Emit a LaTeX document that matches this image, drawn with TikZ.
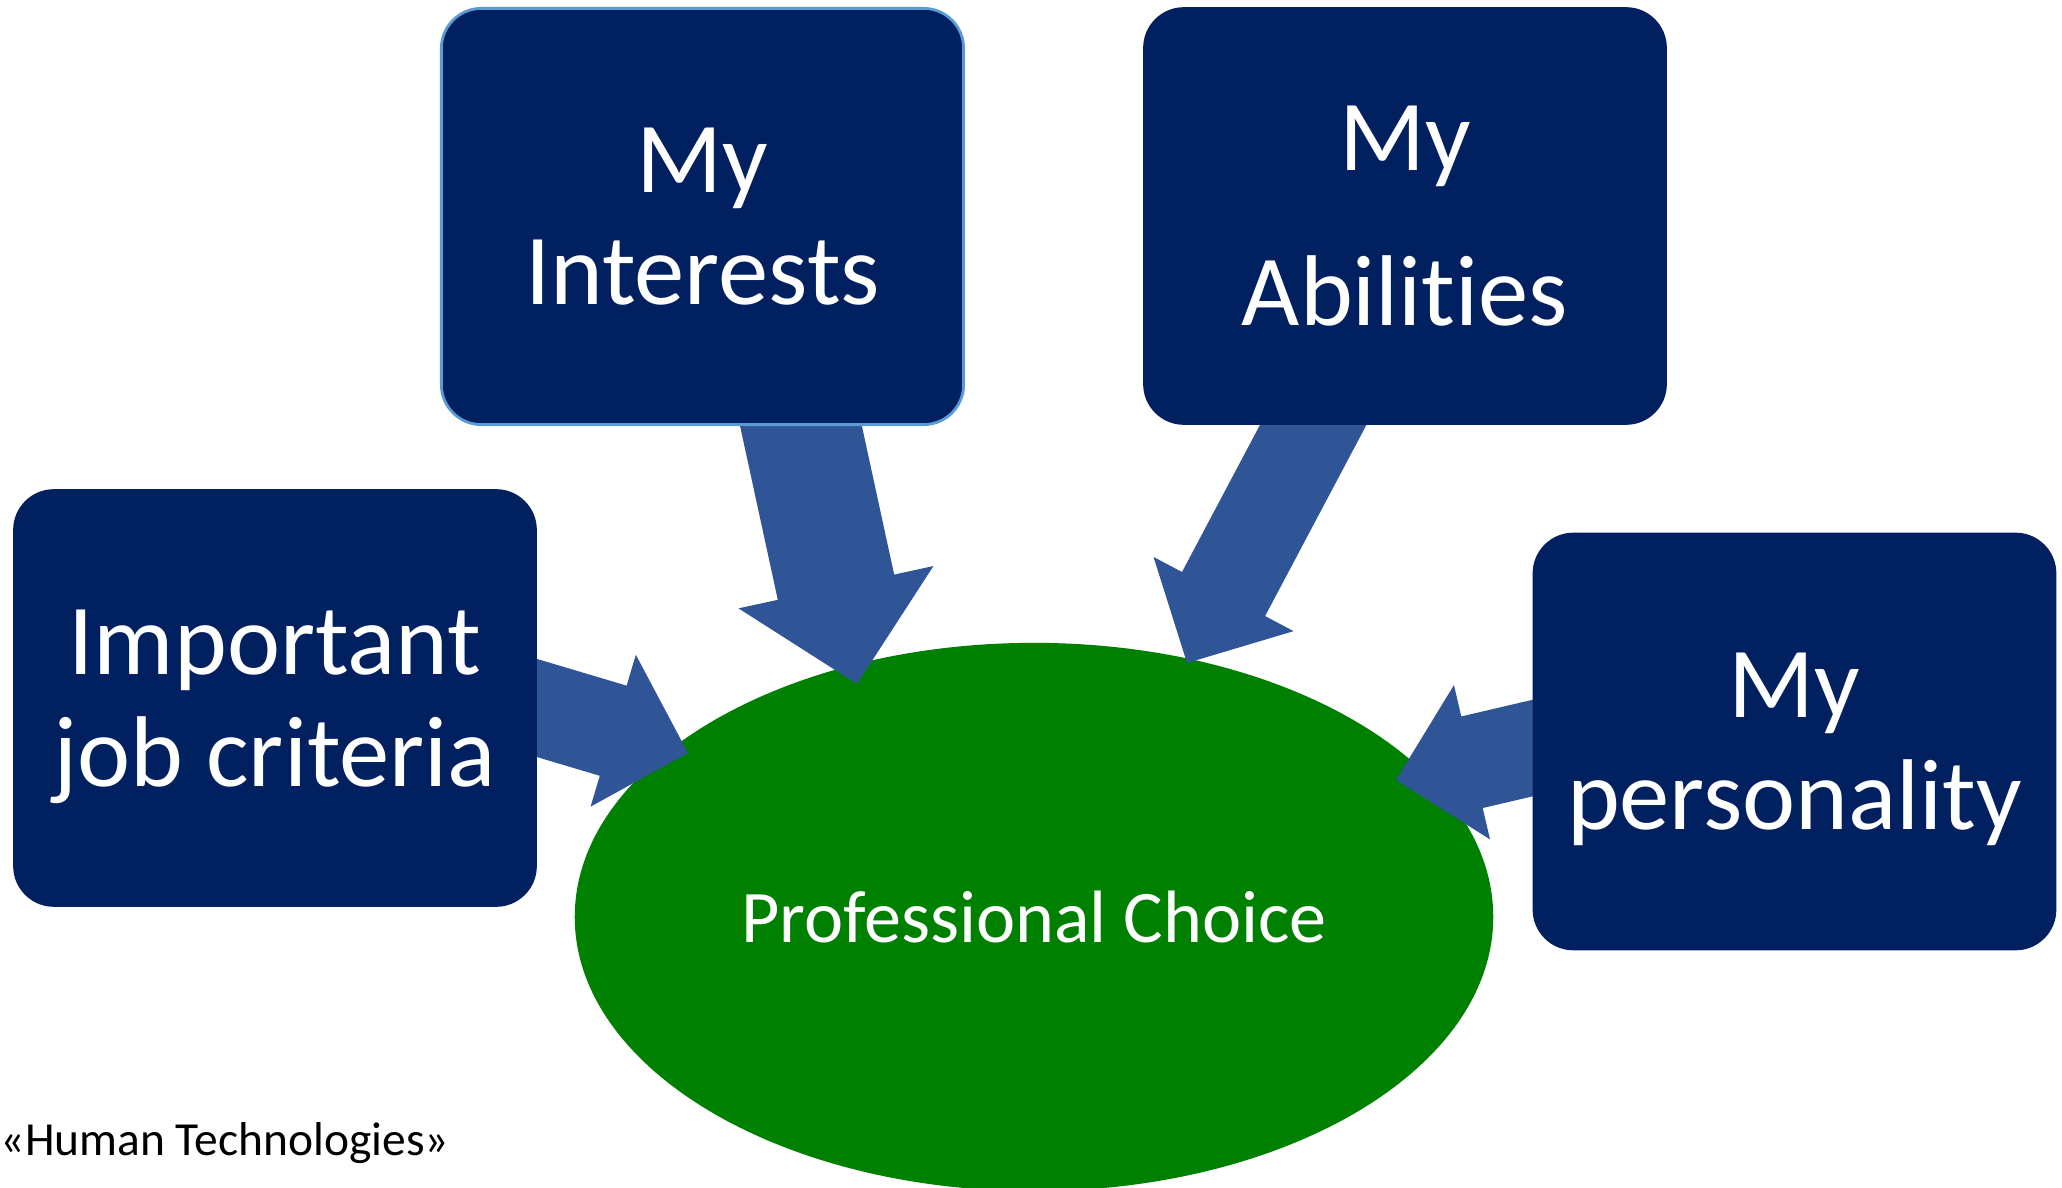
\documentclass[tikz,border=0pt]{standalone}
\usepackage{fontspec}
\setmainfont{Carlito}[Ligatures=NoCommon]
\usetikzlibrary{arrows.meta, shapes.geometric}

\definecolor{navy}{RGB}{0,32,96}
\definecolor{edgeblue}{RGB}{91,155,213}
\definecolor{arrowblue}{RGB}{47,85,151}
\definecolor{choicegreen}{RGB}{0,128,0}

\begin{document}
\begin{tikzpicture}
[x=0.01cm, y=-0.01cm, inner sep=0pt,
 box/.style={rectangle, rounded corners=0.4cm, fill=navy, draw=navy, text=white,
   minimum width=5.22cm, minimum height=4.16cm, align=center, text depth=0pt,
   font=\fontsize{28.6}{31.8}\selectfont},
 big/.style={draw=arrowblue, line width=1.19cm,
   -{Triangle[length=0.99cm, width=1.98cm, line width'=2pt]}},
 small/.style={draw=arrowblue, line width=0.94cm,
   -{Triangle[length=0.78cm, width=1.57cm, line width'=2pt]}}]

\useasboundingbox (0,0) rectangle (2062,1188);

\node[ellipse, fill=choicegreen, minimum width=9.18cm, minimum height=5.48cm, text=white,
  font=\fontsize{21.1}{24}\selectfont] (choice) at (1034,917) {Professional Choice};

% arrow tails sit under the boxes
\coordinate (intTail) at (791,380);
\coordinate (intTip) at (857,684);
\coordinate (ablTail) at (1337,380);
\coordinate (ablTip) at (1187,663);
\coordinate (critTail) at (490,694);
\coordinate (critTip) at (688,753);
\coordinate (persTail) at (1580,737);
\coordinate (persTip) at (1396,780);

\path
  (intTail) edge[big] (intTip)
  (ablTail) edge[small] (ablTip)
  (critTail) edge[small] (critTip)
  (persTail) edge[small] (persTip);

\node[box, draw=edgeblue, line width=0.8pt] (interests) at (702.5,216.5) {My\\Interests};
\node[box, font=\fontsize{28.6}{44.1}\selectfont] (abilities) at (1405,216) {My\\Abilities};
\node[box] (criteria) at (275,698) {Important\\job criteria};
\node[box] (personality) at (1794.5,741.5) {My\\personality};

\node[anchor=base west, font=\fontsize{13.5}{16}\selectfont] (credit) at (0,1155) {«Human Technologies»};
\end{tikzpicture}
\end{document}
